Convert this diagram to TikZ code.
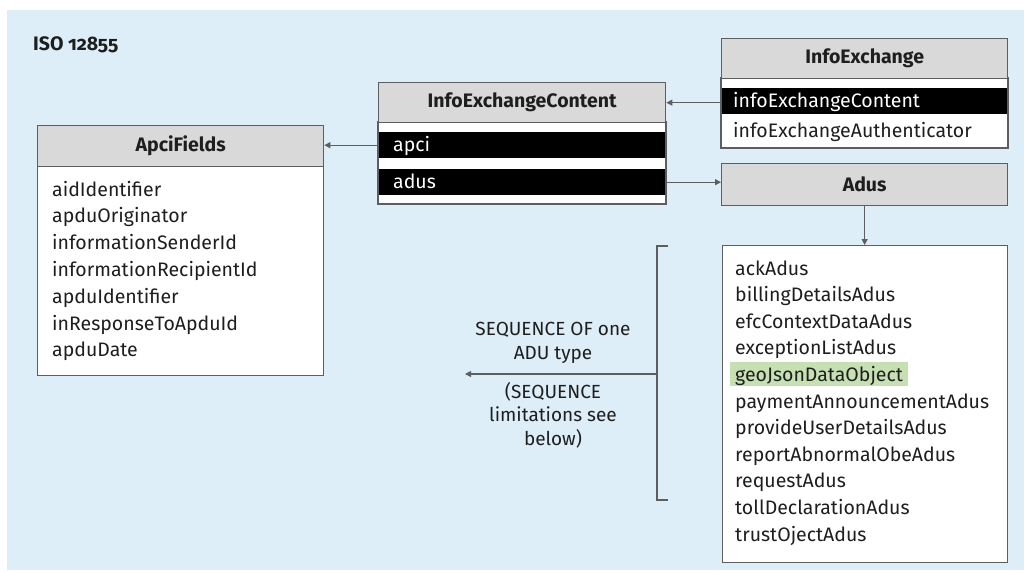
\documentclass[tikz,border=0pt]{standalone}
\usepackage{fontspec}
\setmainfont{Fira Sans}
\usetikzlibrary{arrows.meta}
\definecolor{bgblue}{HTML}{DDEEF8}
\definecolor{hdrgrey}{HTML}{D9D9D9}
\definecolor{edge}{HTML}{5E5E5E}
\definecolor{hlgreen}{HTML}{C6E0B4}
\definecolor{txt}{HTML}{1E1E1E}
\tikzset{
  hdr/.style={draw=edge, line width=1.3pt, fill=hdrgrey, inner sep=0pt, font=\fontsize{19.5}{22}\selectfont\bfseries, text=txt},
  whitebox/.style={draw=edge, line width=1.3pt, fill=white, inner sep=0pt},
  blackrow/.style={fill=black, inner sep=0pt},
  rowtxt/.style={inner sep=0pt, anchor=base west, font=\fontsize{19.5}{22}\selectfont},
  itemtxt/.style={inner sep=0pt, anchor=base west, text=txt, font=\fontsize{19.5}{22}\selectfont},
  lbl/.style={inner sep=0pt, align=center, text=txt, font=\fontsize{19}{23.5}\selectfont},
  conn/.style={draw=edge, line width=1.1pt},
  arr/.style={conn, -{Triangle[length=6pt,width=6pt]}},
}
\begin{document}
\begin{tikzpicture}[x=1pt,y=-1pt]
\useasboundingbox (0,0) rectangle (1024,570);
\fill[bgblue] (7,10) rectangle (1024,570);
\node[anchor=base west, inner sep=0pt, text=txt, font=\fontsize{19.5}{22}\selectfont\bfseries\addfontfeatures{Numbers=OldStyle}] (title) at (33,50) {ISO 12855};

% ApciFields
\node[whitebox, minimum width=286pt, minimum height=209pt, anchor=north west] (apcib) at (37,166) {};
\node[hdr, minimum width=286pt, minimum height=41pt, anchor=north west] (apcih) at (37,125) {ApciFields};
\foreach \t [count=\i from 0] in {aidIdentifier,apduOriginator,informationSenderId,informationRecipientId,apduIdentifier,inResponseToApduId,apduDate}
  \node[itemtxt] (apci\i) at (52,196+26.8*\i) {\t};

% InfoExchangeContent
\node[whitebox, minimum width=287pt, minimum height=81pt, anchor=north west] (iecb) at (378,122) {};
\node[blackrow, minimum width=287pt, minimum height=26pt, anchor=north west] (iecapci) at (378,132) {};
\node[rowtxt, text=white] (iecapcit) at (393,151) {apci};
\node[blackrow, minimum width=287pt, minimum height=26pt, anchor=north west] (iecadus) at (378,169) {};
\node[rowtxt, text=white] (iecadust) at (393,188) {adus};
\draw[edge, line width=1.3pt] (iecb.north west) rectangle (iecb.south east);
\node[hdr, minimum width=287pt, minimum height=40pt, anchor=north west] (iech) at (378,82) {InfoExchangeContent};

% InfoExchange
\node[whitebox, minimum width=286pt, minimum height=69pt, anchor=north west] (ieb) at (721,78) {};
\node[blackrow, minimum width=286pt, minimum height=26pt, anchor=north west] (ierow) at (721,88) {};
\node[rowtxt, text=white] (ierowt) at (733,107) {infoExchangeContent};
\node[rowtxt, text=txt] (ieauth) at (733,137) {infoExchangeAuthenticator};
\draw[edge, line width=1.3pt] (ieb.north west) rectangle (ieb.south east);
\node[hdr, minimum width=286pt, minimum height=40pt, anchor=north west] (ieh) at (721,38) {InfoExchange};

% Adus
\node[hdr, minimum width=286pt, minimum height=42pt, anchor=north west] (adush) at (721,163) {Adus};
\node[whitebox, minimum width=285pt, minimum height=317pt, anchor=north west] (adusb) at (722,245) {};
\fill[hlgreen] (730,362) rectangle (908,386);
\foreach \t [count=\i from 0] in {ackAdus,billingDetailsAdus,efcContextDataAdus,exceptionListAdus,geoJsonDataObject,paymentAnnouncementAdus,provideUserDetailsAdus,reportAbnormalObeAdus,requestAdus,tollDeclarationAdus,trustOjectAdus}
  \node[itemtxt] (adus\i) at (735,275+26.6*\i) {\t};

% Connectors
\draw[arr] (ierow.west |- iech.east) -- (iech.east);
\draw[arr] (iecapci.west) -- (iecapci.west -| apcih.east);
\draw[arr] (iecadus.east) -- (iecadus.east -| adush.west);
\draw[arr] (adush.south) -- (adush.south |- adusb.north);

% Bracket
\coordinate (bt) at (668,246);
\coordinate (bb) at (668,500);
\coordinate (bm) at (657,374);
\coordinate (bend) at (465,374);
\draw[conn] (bt) -- (bt -| bm) -- (bb -| bm) -- (bb);
\draw[arr] (bm) -- (bend);
\node[lbl] (seq1) at (553,343) {SEQUENCE OF one\\ADU type};
\node[lbl] (seq2) at (553,415) {(SEQUENCE\\limitations see\\below)};
\end{tikzpicture}
\end{document}
